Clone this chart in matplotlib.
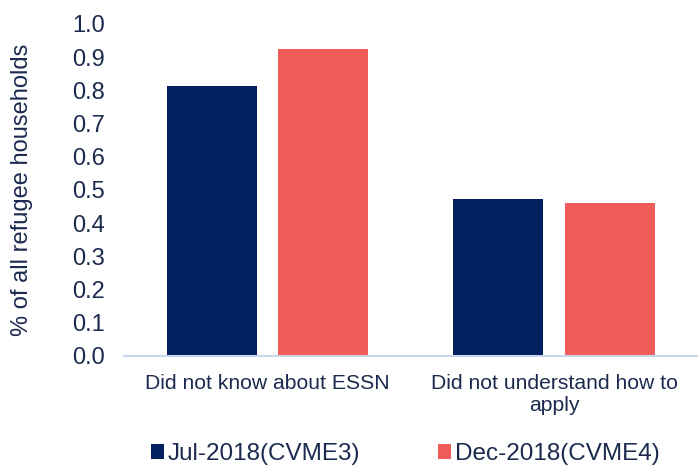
import matplotlib.pyplot as plt
import numpy as np

categories = ['Did not know about ESSN', 'Did not understand how to\napply']
series_names = ['Jul-2018(CVME3)', 'Dec-2018(CVME4)']
jul_2018 = [0.814, 0.472]
dec_2018 = [0.925, 0.461]
yticks = [0.0, 0.1, 0.2, 0.3, 0.4, 0.5, 0.6, 0.7, 0.8, 0.9, 1.0]

plt.rcParams['font.family'] = ['Liberation Sans', 'DejaVu Sans']
text_color = '#1b2a4e'

fig = plt.figure(figsize=(6.98, 4.69), dpi=100)
ax = fig.add_axes([0.178, 0.241, 0.821, 0.708])

x = np.arange(len(categories))
w = 0.314
ax.bar(x - 0.194, jul_2018, w, color='#002060', label=series_names[0])
ax.bar(x + 0.194, dec_2018, w, color='#f05c57', label=series_names[1])

ax.set_xlim(-0.5, 1.5)
ax.set_ylim(0, 1.0)
ax.set_yticks(yticks)
ax.set_yticklabels([f'{t:.1f}' for t in yticks], fontsize=17, color=text_color)
ax.set_xticks(x)
ax.set_xticklabels(categories, fontsize=15.2, color=text_color, linespacing=1.2)
ax.tick_params(axis='x', length=0, pad=13)
ax.tick_params(axis='y', length=0, pad=14)
ax.set_ylabel('% of all refugee households', fontsize=17, color=text_color, labelpad=28)

for s in ['top', 'right', 'left']:
    ax.spines[s].set_visible(False)
ax.spines['bottom'].set_color('#c9d5ea')
ax.spines['bottom'].set_linewidth(1.5)

fig.legend(loc='lower center', bbox_to_anchor=(0.581, -0.038), ncol=2, frameon=False,
           fontsize=17.5, handlelength=0.53, handleheight=0.53, handletextpad=0.16,
           columnspacing=3.2, labelcolor=text_color)

fig.savefig('out.png', dpi=100)
